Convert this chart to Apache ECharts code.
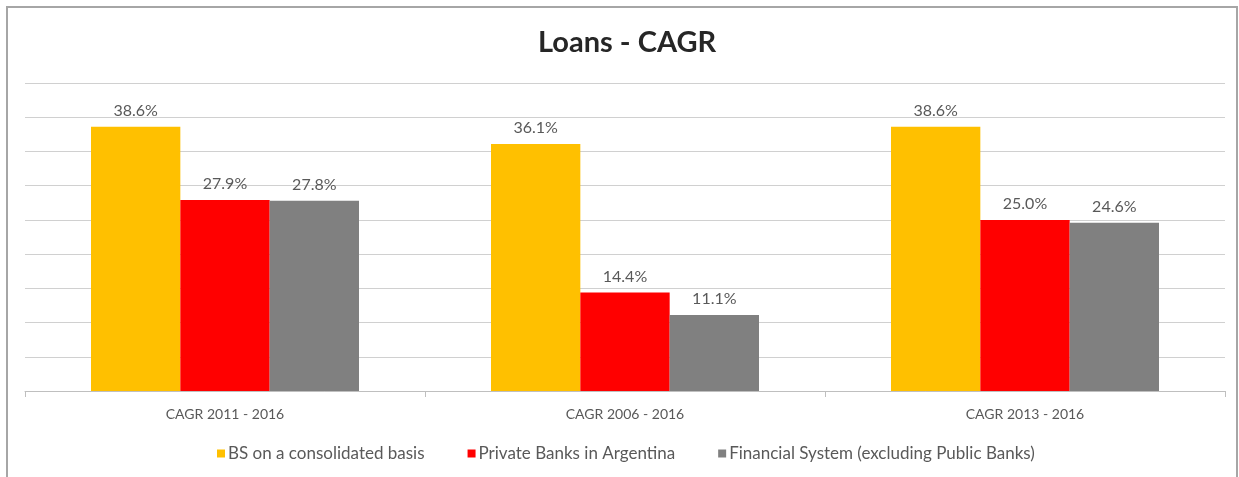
<!DOCTYPE html>
<html>
<head>
<meta charset="utf-8">
<script src="https://cdn.jsdelivr.net/npm/echarts@6/dist/echarts.min.js"></script>
<style>
html,body{margin:0;padding:0;background:#fff;}
#c{width:1239px;height:477px;}
</style>
</head>
<body>
<div id="c"></div>
<script>
const categories = ['CAGR 2011 - 2016', 'CAGR 2006 - 2016', 'CAGR 2013 - 2016'];
const seriesNames = ['BS on a consolidated basis', 'Private Banks in Argentina', 'Financial System (excluding Public Banks)'];
const bsValues = [38.6, 36.1, 38.6];
const privateValues = [27.9, 14.4, 25.0];
const financialValues = [27.8, 11.1, 24.6];
const colors = ['#FFC000', '#FF0000', '#808080'];
const FONT = 'Lato';

const chart = echarts.init(document.getElementById('c'));
function mkSeries(name, data, color) {
  return {
    name: name,
    type: 'bar',
    data: data,
    barGap: '0%',
    barCategoryGap: '33%',
    itemStyle: { color: color },
    label: {
      show: true,
      position: 'top',
      distance: 8,
      color: '#595959',
      fontFamily: FONT,
      fontSize: 16,
      formatter: p => p.value.toFixed(1) + '%'
    }
  };
}
chart.setOption({
  animation: false,
  backgroundColor: '#fff',
  title: {
    text: 'Loans - CAGR',
    left: 533,
    top: 23,
    textStyle: { fontFamily: FONT, fontSize: 29, fontWeight: 'bold', color: '#262626' }
  },
  graphic: [{
    type: 'rect',
    shape: { x: 7, y: 7, width: 1230, height: 500 },
    style: { fill: 'none', stroke: '#a6a6a6', lineWidth: 2 },
    silent: true
  }],
  legend: {
    data: seriesNames,
    left: 212,
    top: 440,
    icon: 'rect',
    itemWidth: 8,
    itemHeight: 8,
    itemGap: 43,
    textStyle: { fontFamily: FONT, fontSize: 17, color: '#595959', padding: [0, 0, 0, -2] }
  },
  grid: { left: 25, right: 14, top: 83, bottom: 86, containLabel: false },
  xAxis: {
    type: 'category',
    data: categories,
    axisLine: { lineStyle: { color: '#bfbfbf', width: 1 } },
    axisTick: { show: true, length: 6, lineStyle: { color: '#bfbfbf' } },
    axisLabel: { color: '#595959', fontFamily: FONT, fontSize: 14, margin: 16 }
  },
  yAxis: {
    type: 'value',
    min: 0,
    max: 45,
    interval: 5,
    axisLabel: { show: false },
    axisLine: { show: false },
    axisTick: { show: false },
    splitLine: { lineStyle: { color: '#d0d0d0', width: 1 } }
  },
  series: [
    mkSeries(seriesNames[0], bsValues, colors[0]),
    mkSeries(seriesNames[1], privateValues, colors[1]),
    mkSeries(seriesNames[2], financialValues, colors[2])
  ]
});
</script>
</body>
</html>
